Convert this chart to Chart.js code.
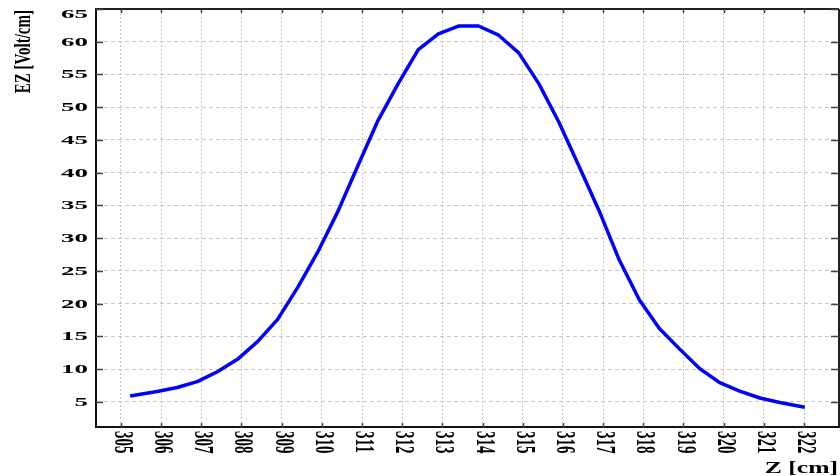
<!DOCTYPE html>
<html><head><meta charset="utf-8">
<script src="https://cdn.jsdelivr.net/npm/chart.js@4/dist/chart.umd.min.js"></script>
<style>html,body{margin:0;padding:0;background:#fff;overflow:hidden}canvas{display:block}</style>
</head><body>
<canvas id="c" width="840" height="476"></canvas>
<script>
const zValues = [305.23, 305.9, 306.4, 306.9, 307.4, 307.9, 308.4, 308.9, 309.4, 309.9, 310.4, 310.9, 311.4, 311.9, 312.4, 312.9, 313.4, 313.9, 314.4, 314.9, 315.4, 315.9, 316.4, 316.9, 317.4, 317.9, 318.4, 318.9, 319.4, 319.9, 320.4, 320.9, 321.4, 322.02];
const ezValues = [5.9, 6.6, 7.2, 8.1, 9.6, 11.5, 14.2, 17.6, 22.5, 27.9, 34.1, 41.1, 48.0, 53.6, 58.8, 61.2, 62.4, 62.4, 61.0, 58.3, 53.6, 47.7, 41.0, 34.2, 26.7, 20.6, 16.2, 13.1, 10.1, 7.95, 6.65, 5.6, 4.9, 4.2];
const xTickValues = [305, 306, 307, 308, 309, 310, 311, 312, 313, 314, 315, 316, 317, 318, 319, 320, 321, 322];
const yTickValues = [5, 10, 15, 20, 25, 30, 35, 40, 45, 50, 55, 60, 65];
const xTitle = 'Z [cm]';
const yTitle = 'EZ [Volt/cm]';

function drawText(ctx, text, x, y, o) {
  ctx.save();
  ctx.translate(x, y);
  ctx.scale(o.sx || 1, 1);
  if (o.rot) ctx.rotate(o.rot);
  ctx.font = o.font;
  ctx.fillStyle = o.color || '#000';
  ctx.textAlign = o.align || 'left';
  ctx.textBaseline = o.baseline || 'alphabetic';
  ctx.fillText(text, 0, 0);
  ctx.restore();
}

const framePlugin = {
  id: 'frame',
  afterDraw(chart) {
    const ctx = chart.ctx;
    const a = chart.chartArea;
    const xs = chart.scales.x, ys = chart.scales.y;
    ctx.save();
    ctx.strokeStyle = '#222';
    ctx.lineWidth = 2;
    ctx.beginPath();
    ctx.moveTo(a.left - 1, a.top); ctx.lineTo(a.right, a.top);
    ctx.moveTo(a.right, a.top); ctx.lineTo(a.right, a.bottom);
    ctx.stroke();
    ctx.strokeStyle = '#444';
    ctx.lineWidth = 1.5;
    ctx.beginPath();
    yTickValues.forEach(v => {
      const p = Math.round(ys.getPixelForValue(v)) + 0.5;
      ctx.moveTo(a.left, p); ctx.lineTo(a.left + 7, p);
      ctx.moveTo(a.right - 8, p); ctx.lineTo(a.right, p);
    });
    xTickValues.forEach(v => {
      const p = Math.round(xs.getPixelForValue(v)) + 0.5;
      ctx.moveTo(p, a.top); ctx.lineTo(p, a.top + 4);
      ctx.moveTo(p, a.bottom - 4); ctx.lineTo(p, a.bottom + 1);
    });
    ctx.stroke();
    ctx.restore();
    yTickValues.forEach(v => {
      let p = ys.getPixelForValue(v);
      p = Math.max(p, a.top + 5);
      drawText(ctx, String(v), a.left - 8, p + 0.5, {font: 'bold 13.5px "Liberation Serif"', sx: 2.0, align: 'right', baseline: 'middle'});
    });
    xTickValues.forEach(v => {
      const p = xs.getPixelForValue(v);
      drawText(ctx, String(v), p + 1, a.bottom + 4, {font: 'bold 15px "Liberation Serif"', sx: 1.8, rot: Math.PI / 2, align: 'left', baseline: 'middle'});
    });
    drawText(ctx, xTitle, 838, 473, {font: 'bold 16px "Liberation Serif"', sx: 1.6, align: 'right'});
    drawText(ctx, yTitle, 24, 10, {font: 'bold 15px "Liberation Serif"', sx: 1.6, rot: -Math.PI / 2, align: 'right', baseline: 'middle'});
  }
};

new Chart(document.getElementById('c'), {
  type: 'line',
  data: {
    datasets: [{
      data: zValues.map((z, i) => ({x: z, y: ezValues[i]})),
      borderColor: '#0000ff',
      borderWidth: 3.5,
      borderJoinStyle: 'round',
      pointRadius: 0,
      tension: 0,
      fill: false
    }]
  },
  options: {
    responsive: false,
    animation: false,
    devicePixelRatio: 1,
    layout: {padding: {left: 96, right: 1, top: 9, bottom: 49}},
    plugins: {legend: {display: false}, tooltip: {enabled: false}},
    scales: {
      x: {
        type: 'linear', min: 304.38, max: 322.87,
        afterBuildTicks: s => { s.ticks = xTickValues.map(v => ({value: v})); },
        ticks: {display: false},
        grid: {color: '#c8c8c8', lineWidth: 1, drawTicks: false},
        border: {display: true, color: '#111', width: 2, dash: [2, 2]}
      },
      y: {
        type: 'linear', min: 1.17, max: 65,
        afterBuildTicks: s => { s.ticks = yTickValues.map(v => ({value: v})); },
        ticks: {display: false},
        grid: {color: '#c8c8c8', lineWidth: 1, drawTicks: false},
        border: {display: true, color: '#111', width: 2, dash: [4, 3]}
      }
    }
  },
  plugins: [framePlugin]
});
</script>
</body></html>
